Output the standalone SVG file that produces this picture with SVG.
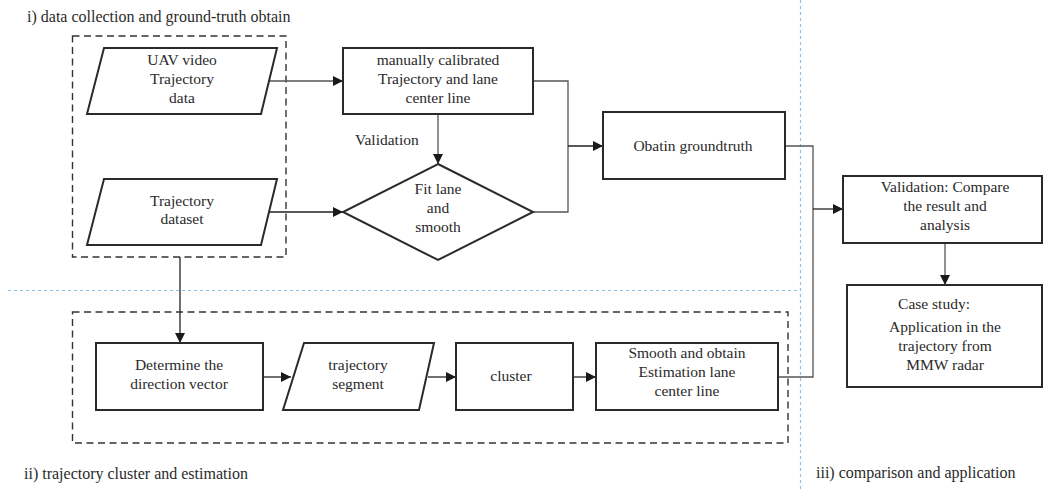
<svg xmlns="http://www.w3.org/2000/svg" width="1044" height="489" viewBox="0 0 1044 489">
<style>
.c{text-anchor:middle}
.box{fill:#fff;stroke:#2a2a2a;stroke-width:2}
.dash{fill:none;stroke:#333;stroke-width:1.4;stroke-dasharray:7,4.5}
.blue{fill:none;stroke:#8cc0e6;stroke-width:1.2;stroke-dasharray:3,3}
.conn{fill:none;stroke:#555;stroke-width:1.3}
.conn2{fill:none;stroke:#222;stroke-width:1.3}
</style>
<defs>
<marker id="ah" viewBox="0 0 10 10" refX="10" refY="5" markerWidth="10" markerHeight="10" markerUnits="userSpaceOnUse" orient="auto">
<path d="M0,0 L10,5 L0,10 Z" fill="#1a1a1a"/>
</marker>
</defs>
<rect width="1044" height="489" fill="#fff"/>
<g font-family="Liberation Serif, serif" font-size="15.5" fill="#2a2a2a">
<g id="regions">
<line class="blue" x1="800.5" y1="0" x2="800.5" y2="489"/>
<line class="blue" x1="8" y1="290.5" x2="800" y2="290.5"/>
<rect class="dash" x="72.5" y="36" width="213.5" height="221"/>
<rect class="dash" x="72.5" y="312" width="715.5" height="131"/>
<text font-size="16" x="27" y="22">i) data collection and ground-truth obtain</text>
<text font-size="16" x="24" y="479">ii) trajectory cluster and estimation</text>
<text font-size="16" x="816" y="478">iii) comparison and application</text>
</g>
<g id="connectors">
<line class="conn" x1="269" y1="81" x2="343" y2="81" marker-end="url(#ah)"/>
<line class="conn2" x1="269" y1="212" x2="343" y2="212" marker-end="url(#ah)"/>
<line class="conn" x1="438" y1="114" x2="438" y2="164" marker-end="url(#ah)"/>
<text x="355" y="145">Validation</text>
<polyline class="conn" points="533,81 568,81 568,212 533,212"/>
<line class="conn2" x1="568" y1="146" x2="603" y2="146" marker-end="url(#ah)"/>
<polyline class="conn" points="785,146 813,146 813,377 778,377"/>
<line class="conn2" x1="813" y1="209" x2="843" y2="209" marker-end="url(#ah)"/>
<line class="conn" x1="945" y1="243" x2="945" y2="285" marker-end="url(#ah)"/>
<line class="conn2" x1="180" y1="257" x2="180" y2="343" marker-end="url(#ah)"/>
<line class="conn2" x1="263" y1="377" x2="291" y2="377" marker-end="url(#ah)"/>
<line class="conn2" x1="428" y1="377" x2="456" y2="377" marker-end="url(#ah)"/>
<line class="conn2" x1="573" y1="377" x2="596" y2="377" marker-end="url(#ah)"/>
</g>
<g id="uav">
<polygon class="box" points="104,48 277,48 261,114 87,114"/>
<text class="c" x="182" y="65">UAV video</text>
<text class="c" x="182" y="84">Trajectory</text>
<text class="c" x="182" y="103">data</text>
</g>
<g id="dataset">
<polygon class="box" points="104,179 277,179 261,245 87,245"/>
<text class="c" x="182" y="206">Trajectory</text>
<text class="c" x="182" y="224">dataset</text>
</g>
<g id="manual">
<rect class="box" x="343" y="48" width="190" height="66"/>
<text class="c" x="438" y="65">manually calibrated</text>
<text class="c" x="438" y="84">Trajectory and lane</text>
<text class="c" x="438" y="103">center line</text>
</g>
<g id="fit">
<polygon class="box" points="438,164 533,212 438,260 343,212"/>
<text class="c" x="438" y="194">Fit lane</text>
<text class="c" x="438" y="213">and</text>
<text class="c" x="438" y="232">smooth</text>
</g>
<g id="groundtruth">
<rect class="box" x="603" y="112" width="182" height="67"/>
<text class="c" x="693" y="151">Obatin groundtruth</text>
</g>
<g id="validation">
<rect class="box" x="843" y="176" width="199" height="67"/>
<text class="c" x="945" y="192">Validation: Compare</text>
<text class="c" x="945" y="211">the result and</text>
<text class="c" x="945" y="230">analysis</text>
</g>
<g id="casestudy">
<rect class="box" x="847" y="285" width="195" height="102"/>
<text class="c" x="934" y="309">Case study:</text>
<text class="c" x="945" y="332">Application in the</text>
<text class="c" x="945" y="351">trajectory from</text>
<text class="c" x="945" y="370">MMW radar</text>
</g>
<g id="direction">
<rect class="box" x="96" y="343" width="167" height="67"/>
<text class="c" x="179" y="370">Determine the</text>
<text class="c" x="179" y="389">direction vector</text>
</g>
<g id="segment">
<polygon class="box" points="304,343 434,343 419,410 283,410"/>
<text class="c" x="358" y="370">trajectory</text>
<text class="c" x="358" y="389">segment</text>
</g>
<g id="cluster">
<rect class="box" x="456" y="343" width="117" height="67"/>
<text class="c" x="511" y="381">cluster</text>
</g>
<g id="smooth">
<rect class="box" x="596" y="343" width="182" height="67"/>
<text class="c" x="687" y="358">Smooth and obtain</text>
<text class="c" x="687" y="377">Estimation lane</text>
<text class="c" x="687" y="396">center line</text>
</g>
</g>
</svg>
